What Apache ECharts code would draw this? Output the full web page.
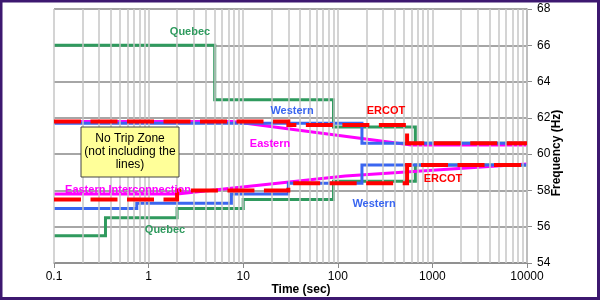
<!DOCTYPE html>
<html>
<head>
<meta charset="utf-8">
<script src="https://cdn.jsdelivr.net/npm/echarts@6/dist/echarts.min.js"></script>
<style>
html,body{margin:0;padding:0;background:#fff;}
#c{width:600px;height:300px;}
</style>
</head>
<body>
<div id="c"></div>
<script>
// ---- data ----
var xTickValues = [0.1, 1, 10, 100, 1000, 10000];
var xTickLabels = ['0.1', '1', '10', '100', '1000', '10000'];

var quebecHighT = [0.1, 5, 90, 660, 10000];
var quebecHighF = [66, 63, 61.5, 60.6, 60.6];
var quebecLowT = [0.1, 0.35, 2, 10, 90, 660, 10000];
var quebecLowF = [55.5, 56.5, 57.0, 57.5, 58.5, 59.4, 59.4];

var westernHighT = [0.1, 180, 10000];
var westernHighF = [61.7, 60.6, 60.6];
var westernLowT = [0.1, 0.75, 7.5, 30, 180, 10000];
var westernLowF = [57.0, 57.3, 57.8, 58.4, 59.4, 59.4];

var ercotHighT = [0.1, 30, 540, 10000];
var ercotHighF = [61.8, 61.6, 60.6, 60.6];
var ercotLowT = [0.1, 2, 30, 540, 10000];
var ercotLowF = [57.5, 58.0, 58.4, 59.4, 59.4];

var easternHighT = [0.1, 7.7, 600, 10000];
var easternHighF = [61.8, 61.8, 60.5, 60.5];
var easternLowT = [0.1, 2, 120, 10000];
var easternLowF = [57.8, 57.8, 58.8, 59.45];

// minor log gridline positions (1..9 per decade)
var gridX = [];
for (var d = -1; d < 4; d++) {
  for (var k = 1; k <= 9; k++) gridX.push(+(k * Math.pow(10, d)).toPrecision(6));
}
gridX.push(10000);

function pairs(t, f) { return t.map(function (v, i) { return [v, f[i]]; }); }

var GREEN = '#2f9a5e', BLUE = '#3a66f0', RED = '#ff0000', MAG = '#ff00ff';
var FONT = 'Liberation Sans, Arial, sans-serif';

var chart = echarts.init(document.getElementById('c'), null, {renderer: 'canvas'});

function stepLine(name, t, f, color, width, type, z) {
  return {
    name: name, type: 'line', step: 'end', data: pairs(t, f),
    symbol: 'none', showSymbol: false, z: z, silent: true,
    lineStyle: {color: color, width: width, type: type || 'solid', cap: 'butt', join: 'miter'}
  };
}
function plainLine(name, t, f, color, width, z) {
  return {
    name: name, type: 'line', data: pairs(t, f),
    symbol: 'none', showSymbol: false, z: z, silent: true,
    lineStyle: {color: color, width: width}
  };
}

var option = {
  animation: false,
  grid: {left: 54, right: 73, top: 9, bottom: 37, containLabel: false},
  xAxis: {
    type: 'log', logBase: 10, min: 0.1, max: 10000,
    axisLine: {show: true, lineStyle: {color: '#8a8a8a', width: 1.5}},
    axisTick: {show: true, length: 5, inside: false, lineStyle: {color: '#8a8a8a'}},
    axisLabel: {
      margin: 8, color: '#000', fontSize: 12, fontFamily: FONT,
      formatter: function (v) {
        for (var i = 0; i < xTickValues.length; i++) {
          if (Math.abs(Math.log10(xTickValues[i]) - Math.log10(v)) < 1e-6) return xTickLabels[i];
        }
        return '';
      }
    },
    splitLine: {show: false}
  },
  yAxis: {
    type: 'value', position: 'right', min: 54, max: 68, interval: 2,
    axisLine: {show: true, lineStyle: {color: '#8a8a8a', width: 1.5}},
    axisTick: {show: true, length: 5, inside: false, lineStyle: {color: '#8a8a8a'}},
    axisLabel: {margin: 10, color: '#000', fontSize: 12, fontFamily: FONT, align: 'left'},
    splitLine: {show: true, lineStyle: {color: '#888888', width: 1.5}}
  },
  series: [
    {
      name: 'grid', type: 'line', data: [[0.1, 54]], symbol: 'none', z: 0, silent: true,
      lineStyle: {opacity: 0},
      markLine: {
        silent: true, symbol: 'none', label: {show: false}, animation: false,
        lineStyle: {color: '#c6c6c6', width: 1.5, type: 'solid'},
        data: gridX.map(function (v) { return {xAxis: v}; })
      }
    },
    stepLine('Quebec high', quebecHighT, quebecHighF, GREEN, 3, 'solid', 2),
    stepLine('Quebec low', quebecLowT, quebecLowF, GREEN, 3, 'solid', 2),
    plainLine('Eastern high', easternHighT, easternHighF, MAG, 3, 3),
    plainLine('Eastern low', easternLowT, easternLowF, MAG, 3, 3),
    stepLine('Western high', westernHighT, westernHighF, BLUE, 3, 'solid', 4),
    stepLine('Western low', westernLowT, westernLowF, BLUE, 3, 'solid', 4),
    stepLine('ERCOT high', ercotHighT, ercotHighF, RED, 4, [27, 9.5], 5),
    stepLine('ERCOT low', ercotLowT, ercotLowF, RED, 4, [27, 9.5], 5)
  ],
  graphic: [
    {type: 'rect', z: 50, shape: {x: 81, y: 127, width: 98, height: 50},
     style: {fill: '#ffff99', stroke: '#444', lineWidth: 1}},
    {type: 'text', z: 51, x: 130, y: 152,
     style: {text: 'No Trip Zone\n(not including the\nlines)', fill: '#000', font: '12px ' + FONT,
             align: 'center', verticalAlign: 'middle', lineHeight: 13}},
    {type: 'text', z: 60, x: 190, y: 32, style: {text: 'Quebec', fill: GREEN, font: 'bold 11px ' + FONT, align: 'center', verticalAlign: 'middle'}},
    {type: 'text', z: 60, x: 292, y: 111, style: {text: 'Western', fill: BLUE, font: 'bold 11px ' + FONT, align: 'center', verticalAlign: 'middle'}},
    {type: 'text', z: 60, x: 386, y: 111, style: {text: 'ERCOT', fill: RED, font: 'bold 11px ' + FONT, align: 'center', verticalAlign: 'middle'}},
    {type: 'text', z: 60, x: 270, y: 144, style: {text: 'Eastern', fill: MAG, font: 'bold 11px ' + FONT, align: 'center', verticalAlign: 'middle'}},
    {type: 'text', z: 60, x: 128, y: 190, style: {text: 'Eastern Interconnection', fill: MAG, font: 'bold 11px ' + FONT, align: 'center', verticalAlign: 'middle'}},
    {type: 'text', z: 60, x: 443, y: 179, style: {text: 'ERCOT', fill: RED, font: 'bold 11px ' + FONT, align: 'center', verticalAlign: 'middle'}},
    {type: 'text', z: 60, x: 374, y: 204, style: {text: 'Western', fill: BLUE, font: 'bold 11px ' + FONT, align: 'center', verticalAlign: 'middle'}},
    {type: 'text', z: 60, x: 165, y: 230, style: {text: 'Quebec', fill: GREEN, font: 'bold 11px ' + FONT, align: 'center', verticalAlign: 'middle'}},
    {type: 'text', z: 60, x: 301, y: 290, style: {text: 'Time (sec)', fill: '#000', font: 'bold 12px ' + FONT, align: 'center', verticalAlign: 'middle'}},
    {type: 'text', z: 60, x: 557, y: 153, rotation: Math.PI / 2,
     style: {text: 'Frequency (Hz)', fill: '#000', font: 'bold 12px ' + FONT, align: 'center', verticalAlign: 'middle'}},
    {type: 'rect', z: 100, shape: {x: 1, y: 1, width: 597.5, height: 297.5},
     style: {fill: 'none', stroke: '#3d1870', lineWidth: 3}}
  ]
};
chart.setOption(option);
</script>
</body>
</html>
